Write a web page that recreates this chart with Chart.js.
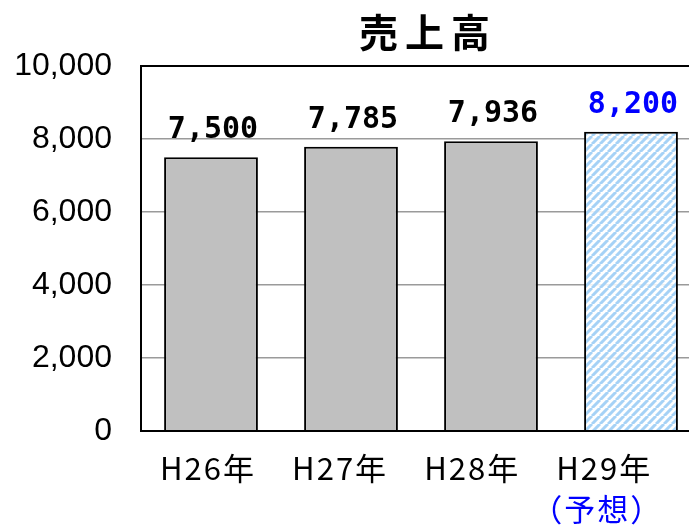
<!DOCTYPE html>
<html><head><meta charset="utf-8">
<script src="https://cdn.jsdelivr.net/npm/chart.js@4/dist/chart.umd.min.js"></script>
<style>
html,body{margin:0;padding:0;background:#fff;overflow:hidden;}
#wrap{width:689px;height:530px;overflow:hidden;position:relative;}
canvas{display:block;}
</style></head>
<body>
<div id="wrap"><canvas id="c" width="712" height="530" style="width:712px;height:530px"></canvas></div>
<script>
const title = '売上高';
const categories = ['H26年', 'H27年', 'H28年', 'H29年'];
const notes = ['', '', '', '（予想）'];
const sales = [7500, 7785, 7936, 8200];
const yTicks = [0, 2000, 4000, 6000, 8000, 10000];

const canvas = document.getElementById('c');
const ctx0 = canvas.getContext('2d');
function makeHatch() {
  const c = document.createElement('canvas');
  c.width = 8; c.height = 8;
  const g = c.getContext('2d');
  g.fillStyle = 'rgba(255,255,255,0.85)';
  g.fillRect(0, 0, 8, 8);
  g.strokeStyle = '#a6d2f6';
  g.lineWidth = 3;
  g.beginPath();
  for (let k = -16; k <= 16; k += 8) { g.moveTo(k, 8); g.lineTo(k + 8, 0); }
  g.stroke();
  return ctx0.createPattern(c, 'repeat');
}
const hatch = makeHatch();
const barColors = ['#c0c0c0', '#c0c0c0', '#c0c0c0', hatch];
const labelColors = ['#000000', '#000000', '#000000', '#0000ff'];

const fmt = v => v.toLocaleString('en-US');

const decor = {
  id: 'decor',
  afterDatasetsDraw(chart) {
    const ctx = chart.ctx;
    const a = chart.chartArea;
    ctx.save();
    // frame
    ctx.strokeStyle = '#000';
    ctx.lineWidth = 2;
    ctx.beginPath();
    ctx.moveTo(a.right + 5, a.top); ctx.lineTo(a.left, a.top);
    ctx.lineTo(a.left, a.bottom); ctx.lineTo(a.right + 5, a.bottom);
    ctx.stroke();
    // value labels
    const meta = chart.getDatasetMeta(0);
    ctx.font = 'bold 30px "DejaVu Sans Mono"';
    ctx.textAlign = 'center';
    ctx.textBaseline = 'alphabetic';
    meta.data.forEach((bar, i) => {
      ctx.fillStyle = labelColors[i];
      ctx.fillText(fmt(sales[i]), bar.x + 2, bar.y - 19);
    });
    // category labels
    const xl = chart.scales.xl;
    ctx.font = '31px "Noto Sans CJK JP"';
    ctx.textBaseline = 'middle';
    try { ctx.letterSpacing = '2px'; } catch (e) {}
    categories.forEach((c, i) => {
      const x = xl.getPixelForValue(i);
      ctx.fillStyle = '#000';
      ctx.fillText(c, x + 1, 468);
      if (notes[i]) {
        ctx.fillStyle = '#0000ff';
        ctx.fillText(notes[i], x - 6, 509);
      }
    });
    // title
    ctx.font = 'bold 39px "Noto Sans CJK JP"';
    try { ctx.letterSpacing = '7px'; } catch (e) {}
    ctx.fillStyle = '#000';
    ctx.fillText(title, (a.left + a.right) / 2 + 7, 32);
    ctx.restore();
  }
};

new Chart(canvas, {
  type: 'bar',
  data: {
    labels: categories,
    datasets: [{
      data: sales,
      backgroundColor: barColors,
      borderColor: '#000',
      borderWidth: 2,
      barPercentage: 0.67,
      categoryPercentage: 1.0
    }]
  },
  options: {
    responsive: false,
    animation: false,
    devicePixelRatio: 1,
    layout: { padding: { top: 66, right: 11, bottom: 99, left: 0 } },
    plugins: { legend: { display: false }, tooltip: { enabled: false }, title: { display: false } },
    scales: {
      x: {
        type: 'category',
        ticks: { display: false },
        grid: { display: false, drawTicks: false },
        border: { display: false }
      },
      xl: {
        type: 'linear',
        position: 'bottom',
        display: true,
        offset: false,
        bounds: 'data',
        min: -0.5,
        max: 3.74,
        afterBuildTicks(s) {
          s.ticks = categories.map((c, i) => ({ value: i }));
          s.min = -0.5;
          s.max = 3.74;
        },
        ticks: { display: false },
        grid: { display: false, drawTicks: false, offset: false },
        border: { display: false }
      },
      y: {
        min: 0, max: 10000,
        afterFit(s) { s.width = 141; },
        afterBuildTicks(s) { s.ticks = yTicks.map(v => ({ value: v })); },
        ticks: {
          padding: 29,
          color: '#000',
          font: { family: '"Liberation Sans", Arial, sans-serif', size: 32 },
          callback: v => fmt(v)
        },
        grid: { color: '#9a9a9a', lineWidth: 1.5, drawTicks: false },
        border: { display: false }
      }
    }
  },
  plugins: [decor]
});
</script>
</body></html>
